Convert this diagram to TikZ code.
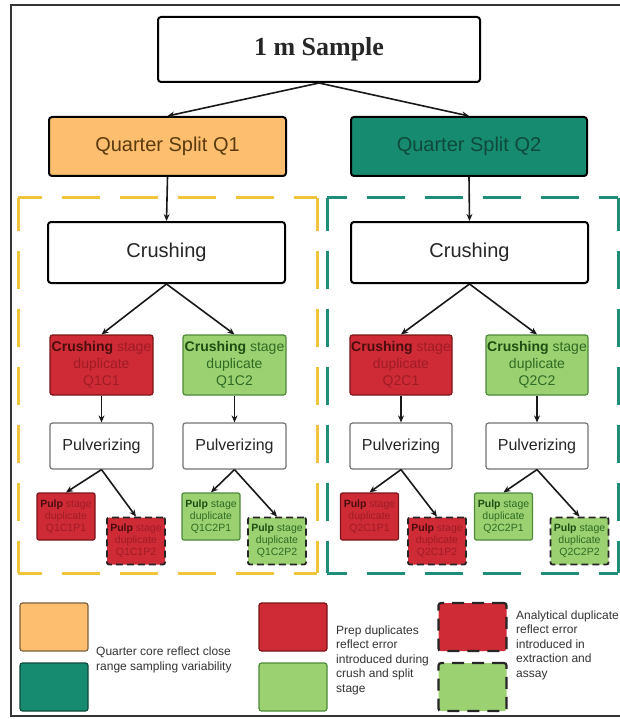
\documentclass[tikz,border=0pt]{standalone}
\usepackage{fontspec}
\setmainfont{Liberation Sans}
\newfontfamily\samplefont{Liberation Serif}
\usetikzlibrary{arrows.meta}
\definecolor{qorange}{HTML}{FDBF6F}
\definecolor{qteal}{HTML}{178B70}
\definecolor{qred}{HTML}{CF2B36}
\definecolor{qgreen}{HTML}{9CD172}
\definecolor{yelframe}{HTML}{F1C440}
\definecolor{tealframe}{HTML}{1E8E78}
\definecolor{redline}{HTML}{7A1518}
\definecolor{greenline}{HTML}{4D8A3A}
\definecolor{redtext}{HTML}{A01C25}
\definecolor{redtextdark}{HTML}{4A0D0D}
\definecolor{greentext}{HTML}{2E6B23}
\definecolor{greentextdark}{HTML}{1E4D12}
\definecolor{qonetext}{HTML}{5B3A0E}
\definecolor{qtwotext}{HTML}{0E4A3C}
\definecolor{legtext}{HTML}{333333}
\begin{document}
\begin{tikzpicture}[x=1pt,y=-1pt,
  bigbox/.style={draw=black, line width=2pt, rounded corners=3pt, inner sep=0pt, align=center},
  cbox/.style={line width=1.2pt, rounded corners=2.5pt, minimum width=103pt, minimum height=60pt, inner sep=0pt, align=center, font=\fontsize{14}{17}\selectfont},
  credbox/.style={cbox, draw=redline, fill=qred, text=redtext},
  cgreenbox/.style={cbox, draw=greenline, fill=qgreen, text=greentext},
  pulvbox/.style={draw=black!55, line width=1.2pt, rounded corners=2.5pt, minimum width=103pt, minimum height=46pt, inner sep=0pt, font=\fontsize{16}{19}\selectfont, text=black!85},
  pbox/.style={line width=1.2pt, rounded corners=2pt, minimum width=58pt, minimum height=47pt, inner sep=0pt, align=center, font=\fontsize{10.5}{12}\selectfont},
  predbox/.style={pbox, draw=redline, fill=qred, text=redtext},
  pgreenbox/.style={pbox, draw=greenline, fill=qgreen, text=greentext},
  pdashed/.style={draw=black!85, line width=1.8pt, dash pattern=on 7pt off 4pt},
  arr/.style={-{Stealth[length=7pt,width=6pt]}, line width=1.6pt, black!90},
  legbox/.style={line width=1.2pt, rounded corners=2.5pt, minimum width=68pt, minimum height=48pt, inner sep=0pt},
  legtxt/.style={anchor=west, align=left, inner sep=0pt, text=legtext, font=\fontsize{12}{14.5}\selectfont},
  yframe/.style={draw=yelframe, line width=3pt},
  tframe/.style={draw=tealframe, line width=3pt}
]
\useasboundingbox (0,0) rectangle (620,719);
\fill[white] (0,0) rectangle (620,719);
% outer frame
\draw[line width=1.5pt, black!80] (625,5) -- (11,5) -- (11,716) -- (625,716);

% dashed group frames
\draw[yframe, dash pattern=on 38pt off 20pt, dash phase=14.5pt] (18,198) -- (317,198);
\draw[yframe, dash pattern=on 38pt off 20pt, dash phase=14.5pt] (18,573) -- (317,573);
\draw[yframe, dash pattern=on 38pt off 20pt, dash phase=5.5pt] (18,198) -- (18,573);
\draw[yframe, dash pattern=on 38pt off 20pt, dash phase=5.5pt] (317,198) -- (317,573);
\draw[tframe, dash pattern=on 38pt off 20pt, dash phase=18.5pt] (327,198) -- (618,198);
\draw[tframe, dash pattern=on 38pt off 20pt, dash phase=18.5pt] (327,573) -- (618,573);
\draw[tframe, dash pattern=on 38pt off 20pt, dash phase=5.5pt] (327,198) -- (327,573);
\draw[tframe, dash pattern=on 38pt off 20pt, dash phase=5.5pt] (618,198) -- (618,573);

% top boxes
\node[bigbox, fill=white, minimum width=322pt, minimum height=65pt, font=\samplefont\bfseries\fontsize{26}{30}\selectfont, text=black!85] (sample) at (319,49.5) {1 m Sample};
\node[bigbox, fill=qorange, minimum width=237pt, minimum height=59pt, font=\fontsize{20}{24}\selectfont, text=qonetext] (q1) at (167.5,146.5) {Quarter Split Q1};
\node[bigbox, fill=qteal, minimum width=236pt, minimum height=59pt, font=\fontsize{20}{24}\selectfont, text=qtwotext] (q2) at (469,146.5) {Quarter Split Q2};

\node[bigbox, fill=white, minimum width=237pt, minimum height=61pt, font=\fontsize{20}{24}\selectfont, text=black!85] (cr1) at (166.5,252.5) {Crushing};
\node[bigbox, fill=white, minimum width=237pt, minimum height=61pt, font=\fontsize{20}{24}\selectfont, text=black!85] (cr2) at (469.5,252.5) {Crushing};

% crushing stage duplicates
\node[credbox] (c11) at (101.5,365) {\textbf{\color{redtextdark}Crushing} stage\\duplicate\\Q1C1};
\node[cgreenbox] (c12) at (234.5,365) {\textbf{\color{greentextdark}Crushing} stage\\duplicate\\Q1C2};
\node[credbox, minimum width=102pt] (c21) at (401,365) {\textbf{\color{redtextdark}Crushing} stage\\duplicate\\Q2C1};
\node[cgreenbox, minimum width=102pt] (c22) at (537,365) {\textbf{\color{greentextdark}Crushing} stage\\duplicate\\Q2C2};

% pulverizing
\node[pulvbox] (pv11) at (101.5,446) {Pulverizing};
\node[pulvbox] (pv12) at (234.5,446) {Pulverizing};
\node[pulvbox, minimum width=102pt] (pv21) at (401,446) {Pulverizing};
\node[pulvbox, minimum width=102pt] (pv22) at (537,446) {Pulverizing};

% pulp duplicates
\node[predbox] (p111) at (66,516.5) {\textbf{\color{redtextdark}Pulp} stage\\duplicate\\Q1C1P1};
\node[predbox, pdashed] (p112) at (136,541) {\textbf{\color{redtextdark}Pulp} stage\\duplicate\\Q1C1P2};
\node[pgreenbox] (p121) at (211,516.5) {\textbf{\color{greentextdark}Pulp} stage\\duplicate\\Q1C2P1};
\node[pgreenbox, pdashed] (p122) at (277,541) {\textbf{\color{greentextdark}Pulp} stage\\duplicate\\Q1C2P2};
\node[predbox] (p211) at (369.5,516.5) {\textbf{\color{redtextdark}Pulp} stage\\duplicate\\Q2C1P1};
\node[predbox, pdashed] (p212) at (437,541) {\textbf{\color{redtextdark}Pulp} stage\\duplicate\\Q2C1P2};
\node[pgreenbox] (p221) at (503.5,516.5) {\textbf{\color{greentextdark}Pulp} stage\\duplicate\\Q2C2P1};
\node[pgreenbox, pdashed] (p222) at (579.5,541) {\textbf{\color{greentextdark}Pulp} stage\\duplicate\\Q2C2P2};

% connectors
\draw[arr] (sample.south) -- (q1.north);
\draw[arr] (sample.south) -- (q2.north);
\draw[arr] (q1.south) -- (cr1.north);
\draw[arr] (q2.south) -- (cr2.north);
\draw[arr] (cr1.south) -- (c11.north);
\draw[arr] (cr1.south) -- (c12.north);
\draw[arr] (cr2.south) -- (c21.north);
\draw[arr] (cr2.south) -- (c22.north);
\draw[arr] (c11.south) -- (pv11.north);
\draw[arr] (c12.south) -- (pv12.north);
\draw[arr] (c21.south) -- (pv21.north);
\draw[arr] (c22.south) -- (pv22.north);
\draw[arr] (pv11.south) -- (p111.north);
\draw[arr] (pv11.south) -- (p112.north);
\draw[arr] (pv12.south) -- (p121.north);
\draw[arr] (pv12.south) -- (p122.north);
\draw[arr] (pv21.south) -- (p211.north);
\draw[arr] (pv21.south) -- (p212.north);
\draw[arr] (pv22.south) -- (p221.north);
\draw[arr] (pv22.south) -- (p222.north);

% legend
\node[legbox, draw=qonetext!80, fill=qorange] (lo) at (54,627) {};
\node[legbox, draw=qtwotext, fill=qteal] (lt) at (54,687) {};
\node[legtxt] (lqt) at (96,660) {Quarter core reflect close\\range sampling variability};
\node[legbox, draw=redline, fill=qred] (lr) at (293,627) {};
\node[legbox, draw=greenline, fill=qgreen] (lg) at (293,687) {};
\node[legtxt] (lpt) at (336,660) {Prep duplicates\\reflect error\\introduced during\\crush and split\\stage};
\node[legbox, fill=qred, draw=black!85, line width=2.2pt, dash pattern=on 12pt off 8pt] (ldr) at (472.5,627) {};
\node[legbox, fill=qgreen, draw=black!85, line width=2.2pt, dash pattern=on 12pt off 8pt] (ldg) at (472.5,687) {};
\node[legtxt] (lat) at (516,645) {Analytical duplicate\\reflect error\\introduced in\\extraction and\\assay};
\end{tikzpicture}
\end{document}
